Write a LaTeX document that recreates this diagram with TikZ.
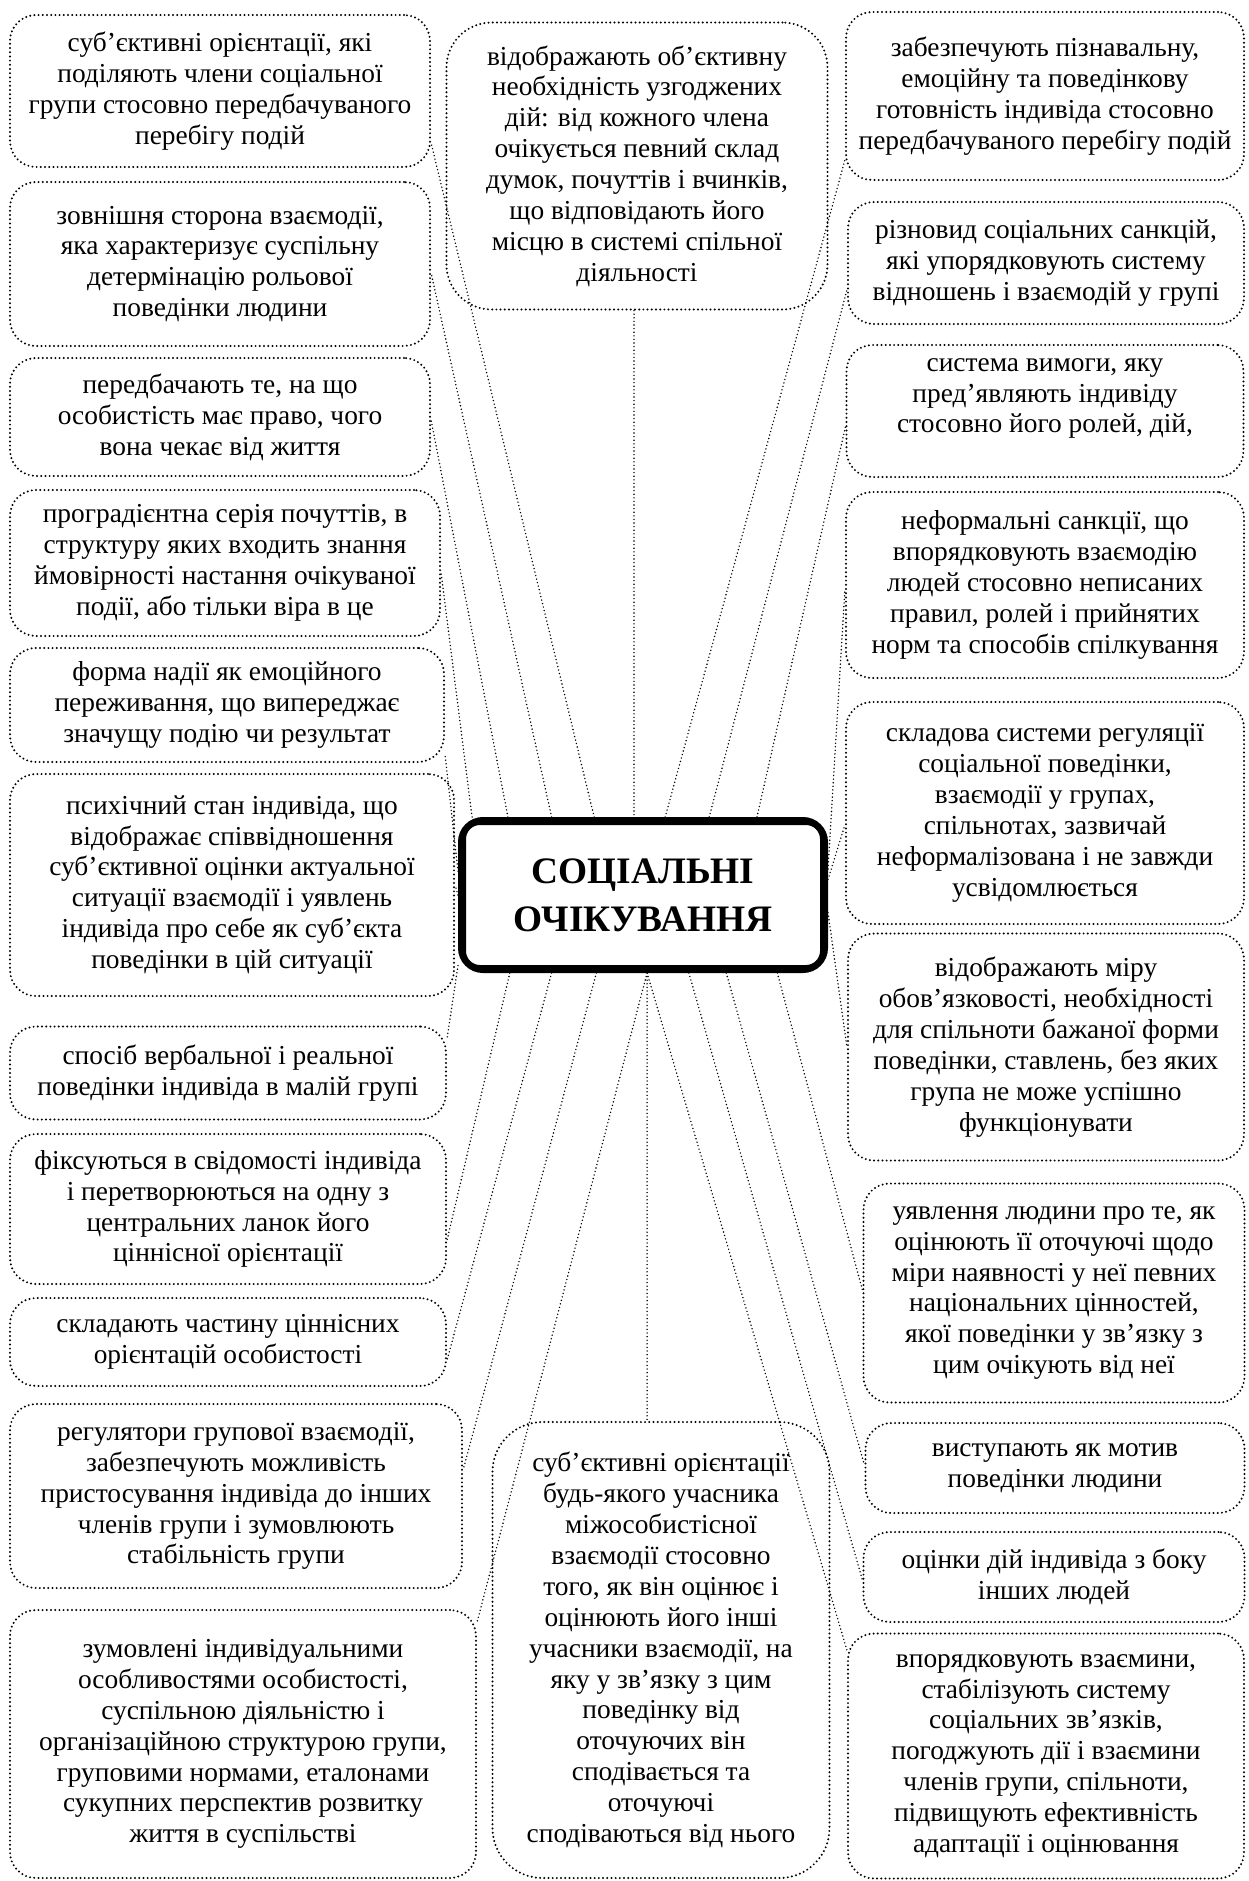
\documentclass[tikz,border=0pt]{standalone}
\usepackage{fontspec}
\setmainfont{Liberation Serif}
\usetikzlibrary{calc}
\tikzset{leaf/.style={draw, rounded corners=26bp, line width=2.2bp, dash pattern=on 0bp off 4.2bp, line cap=round,
  align=center, inner sep=0pt, font=\fontsize{27.5}{31}\selectfont}}
\tikzset{ln/.style={line width=1.6bp, dash pattern=on 0bp off 3.6bp, line cap=round}}
\tikzset{hub/.style={draw, rounded corners=22bp, line width=6bp, align=center, inner sep=0pt,
  minimum width=364bp, minimum height=150bp, font=\fontsize{37.5}{48}\selectfont\bfseries}}

\begin{document}
\begin{tikzpicture}[x=1bp, y=-1bp]
\useasboundingbox (0,0) rectangle (1248,1881);

% centre
\node[hub] (hub) at (643,895) {СОЦІАЛЬНІ\\ОЧІКУВАННЯ};
\draw[line width=2bp, rounded corners=15bp] ($(hub.north west)+(7,7)$) rectangle ($(hub.south east)+(-7,-7)$);

% left column
\node[leaf, minimum width=420bp, minimum height=152bp] (l1) at (220,91) {суб’єктивні орієнтації, які\\поділяють члени соціальної\\групи стосовно передбачуваного\\перебігу подій};
\node[leaf, minimum width=420bp, minimum height=164bp] (l2) at (220,264) {зовнішня сторона взаємодії,\\яка характеризує суспільну\\детермінацію рольової\\поведінки людини};
\node[leaf, minimum width=420bp, minimum height=118bp] (l3) at (220,417) {передбачають те, на що\\особистість має право, чого\\вона чекає від життя};
\node[leaf, minimum width=430bp, minimum height=146bp] (l4) at (225,563) {проградієнтна серія почуттів, в\\структуру яких входить знання\\ймовірності настання очікуваної\\події, або тільки віра в це};
\node[leaf, minimum width=434bp, minimum height=114bp] (l5) at (227,705) {форма надії як емоційного\\переживання, що випереджає\\значущу подію чи результат};
\node[leaf, minimum width=444bp, minimum height=222bp] (l6) at (232,885) {психічний стан індивіда, що\\відображає співвідношення\\суб’єктивної оцінки актуальної\\ситуації взаємодії і уявлень\\індивіда про себе як суб’єкта\\поведінки в цій ситуації};
\node[leaf, minimum width=436bp, minimum height=93bp] (l7) at (228,1073) {спосіб вербальної і реальної\\поведінки індивіда в малій групі};
\node[leaf, minimum width=436bp, minimum height=150bp] (l8) at (228,1209) {фіксуються в свідомості індивіда\\і перетворюються на одну з\\центральних ланок його\\ціннісної орієнтації};
\node[leaf, minimum width=436bp, minimum height=88bp] (l9) at (228,1342) {складають частину ціннісних\\орієнтацій особистості};
\node[leaf, minimum width=452bp, minimum height=184bp] (l10) at (236,1496) {регулятори групової взаємодії,\\забезпечують можливість\\пристосування індивіда до інших\\членів групи і зумовлюють\\стабільність групи};
\node[leaf, minimum width=466bp, minimum height=268bp] (l11) at (243,1744) {зумовлені індивідуальними\\особливостями особистості,\\суспільною діяльністю і\\організаційною структурою групи,\\груповими нормами, еталонами\\сукупних перспектив розвитку\\життя в суспільстві};

% middle column
\node[leaf, rounded corners=45bp, minimum width=381bp, minimum height=287bp] (tm) at (637,166) {відображають об’єктивну\\необхідність узгоджених\\дій: від кожного члена\\очікується певний склад\\думок, почуттів і вчинків,\\що відповідають його\\місцю в системі спільної\\діяльності};
\node[leaf, rounded corners=50bp, minimum width=337bp, minimum height=456bp] (bm) at (661,1650) {суб’єктивні орієнтації\\будь-якого учасника\\міжособистісної\\взаємодії стосовно\\того, як він оцінює і\\оцінюють його інші\\учасники взаємодії, на\\яку у зв’язку з цим\\поведінку від\\оточуючих він\\сподівається та\\оточуючі\\сподіваються від нього};

% right column
\node[leaf, minimum width=398bp, minimum height=168bp] (r1) at (1045,96) {забезпечують пізнавальну,\\емоційну та поведінкову\\готовність індивіда стосовно\\передбачуваного перебігу подій};
\node[leaf, minimum width=396bp, minimum height=122bp] (r2) at (1046,263) {різновид соціальних санкцій,\\які упорядковують систему\\відношень і взаємодій у групі};
\node[leaf, minimum width=397bp, minimum height=132bp] (r3) at (1045,411) {система вимоги, яку\\пред’являють індивіду\\стосовно його ролей, дій,\\\mbox{}};
\node[leaf, minimum width=398bp, minimum height=186bp] (r4) at (1045,585) {неформальні санкції, що\\впорядковують взаємодію\\людей стосовно неписаних\\правил, ролей і прийнятих\\норм та способів спілкування};
\node[leaf, minimum width=398bp, minimum height=222bp] (r5) at (1045,813) {складова системи регуляції\\соціальної поведінки,\\взаємодії у групах,\\спільнотах, зазвичай\\неформалізована і не завжди\\усвідомлюється};
\node[leaf, minimum width=396bp, minimum height=227bp] (r6) at (1046,1047) {відображають міру\\обов’язковості, необхідності\\для спільноти бажаної форми\\поведінки, ставлень, без яких\\група не може успішно\\функціонувати};
\node[leaf, minimum width=381bp, minimum height=219bp] (r7) at (1054,1293) {уявлення людини про те, як\\оцінюють її оточуючі щодо\\міри наявності у неї певних\\національних цінностей,\\якої поведінки у зв’язку з\\цим очікують від неї};
\node[leaf, minimum width=379bp, minimum height=90bp] (r8) at (1055,1468) {виступають як мотив\\поведінки людини};
\node[leaf, minimum width=381bp, minimum height=90bp] (r9) at (1054,1577) {оцінки дій індивіда з боку\\інших людей};
\node[leaf, minimum width=396bp, minimum height=245bp] (r10) at (1046,1756) {впорядковують взаємини,\\стабілізують систему\\соціальних зв’язків,\\погоджують дії і взаємини\\членів групи, спільноти,\\підвищують ефективність\\адаптації і оцінювання};

% connectors, top edge of the centre
\draw[ln] ($(hub.north west)!.038!(hub.north east)$) -- ([yshift=-10bp]l4.east);
\draw[ln] ($(hub.north west)!.135!(hub.north east)$) -- ([yshift=-3bp]l3.east);
\draw[ln] ($(hub.north west)!.253!(hub.north east)$) -- ([yshift=-9bp]l2.east);
\draw[ln] ($(hub.north west)!.368!(hub.north east)$) -- ([yshift=-52bp]l1.east);
\draw[ln] ([xshift=-3bp]tm.south) -- ([xshift=-3bp]tm.south |- hub.north);
\draw[ln] ($(hub.north west)!.560!(hub.north east)$) -- ([yshift=-64bp]r1.west);
\draw[ln] ($(hub.north west)!.679!(hub.north east)$) -- ([yshift=-27bp]r2.west);
\draw[ln] ($(hub.north west)!.808!(hub.north east)$) -- ([yshift=-16bp]r3.west);
% sides
\draw[ln] ($(hub.north east)!.333!(hub.south east)$) -- ([yshift=-5bp]r4.west);
\draw[ln] ($(hub.north east)!.400!(hub.south east)$) -- ([yshift=-12bp]r5.west);
\draw[ln] ($(hub.north east)!.613!(hub.south east)$) -- (r6.west);
\draw[ln] ($(hub.north west)!.347!(hub.south west)$) -- ([yshift=-50bp]l5.east);
\draw[ln] (hub.west) -- (l6.east);
\draw[ln] ($(hub.north west)!.953!(hub.south west)$) -- ([yshift=35bp]l7.east);
% bottom edge
\coordinate (hb) at ($(hub.south west)!.511!(hub.south east)$);
\draw[ln] ($(hub.south west)!.140!(hub.south east)$) -- ([yshift=-31bp]l8.east);
\draw[ln] ($(hub.south west)!.253!(hub.south east)$) -- ([yshift=-18bp]l9.east);
\draw[ln] ($(hub.south west)!.374!(hub.south east)$) -- ([yshift=26bp]l10.east);
\draw[ln] (hb) -- ([yshift=122bp]l11.east);
\draw[ln] (hb) -- (hb |- bm.north);
\draw[ln] (hb) -- ([yshift=106bp]r10.west);
\draw[ln] ($(hub.south west)!.624!(hub.south east)$) -- ([yshift=-3bp]r9.west);
\draw[ln] ($(hub.south west)!.725!(hub.south east)$) -- ([yshift=3bp]r8.west);
\draw[ln] ($(hub.south west)!.863!(hub.south east)$) -- ([yshift=3bp]r7.west);
\end{tikzpicture}
\end{document}
